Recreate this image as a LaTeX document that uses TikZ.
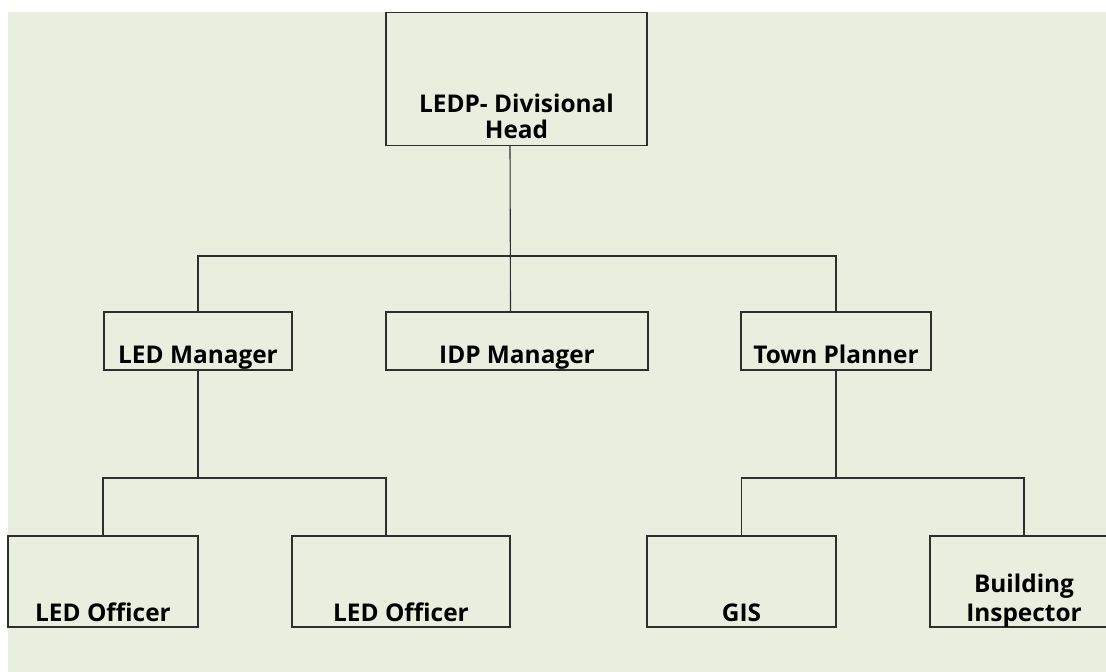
\documentclass[tikz,border=0pt]{standalone}
\usepackage{fontspec}
\setmainfont{Open Sans}
\usepackage{tikz}

\definecolor{paper}{HTML}{EAEEDE}
\definecolor{rule}{HTML}{2E2E2E}

\begin{document}
\begin{tikzpicture}[x=0.5pt,y=-0.5pt]
\tikzstyle{post}=[draw=rule,line width=0.75pt,fill=paper,inner sep=0pt]
\tikzstyle{title}=[anchor=base,align=center,inner sep=0pt,font=\bfseries\fontsize{12.2}{13}\selectfont]
\tikzstyle{link}=[draw=rule,line width=0.55pt]
\useasboundingbox (0,0) rectangle (1106,672);
\fill[paper] (8,12) rectangle (1106,672);

\node[post,minimum width=130.5pt,minimum height=66.5pt] (head) at (516.5,79) {};
\node[post,minimum width=94pt,minimum height=29pt] (ledm) at (198,341) {};
\node[post,minimum width=131pt,minimum height=29pt] (idp) at (517,341) {};
\node[post,minimum width=95pt,minimum height=29pt] (town) at (836,341) {};
\node[post,minimum width=95pt,minimum height=45.5pt] (off1) at (103,581.5) {};
\node[post,minimum width=109pt,minimum height=45.5pt] (off2) at (401,581.5) {};
\node[post,minimum width=94.5pt,minimum height=45.5pt] (gis) at (741.5,581.5) {};
\node[post,minimum width=94pt,minimum height=45.5pt] (insp) at (1024,581.5) {};

\node[title] (headtxt) at ([yshift=3.85pt]head.south) {LEDP- Divisional\\Head};
\node[title] (ledmtxt) at ([yshift=3.5pt]ledm.south) {LED Manager};
\node[title] (idptxt) at ([yshift=3.5pt]idp.south) {IDP Manager};
\node[title] (towntxt) at ([yshift=3.5pt]town.south) {Town Planner};
\node[title] (off1txt) at ([yshift=3pt]off1.south) {LED Officer};
\node[title] (off2txt) at ([yshift=3pt]off2.south) {LED Officer};
\node[title] (gistxt) at ([yshift=3pt]gis.south) {GIS};
\node[title,font=\bfseries\fontsize{12.2}{14.5}\selectfont] (insptxt) at ([yshift=3pt]insp.south) {Building\\Inspector};

\coordinate (bus) at (510,256);
\coordinate (lbus) at (198,478);
\coordinate (rbus) at (836,478);

\draw[link] ([xshift=-3.25pt]head.south) -- ([xshift=-3.25pt]idp.north);
\draw[link] (ledm.north) |- (bus) -| (town.north);
\draw[link] (ledm.south) -- (lbus);
\draw[link] (off1.north) |- (lbus) -| ([xshift=-7.5pt]off2.north);
\draw[link] (town.south) -- (rbus);
\draw[link] (gis.north) |- (rbus) -| (insp.north);
\end{tikzpicture}
\end{document}
